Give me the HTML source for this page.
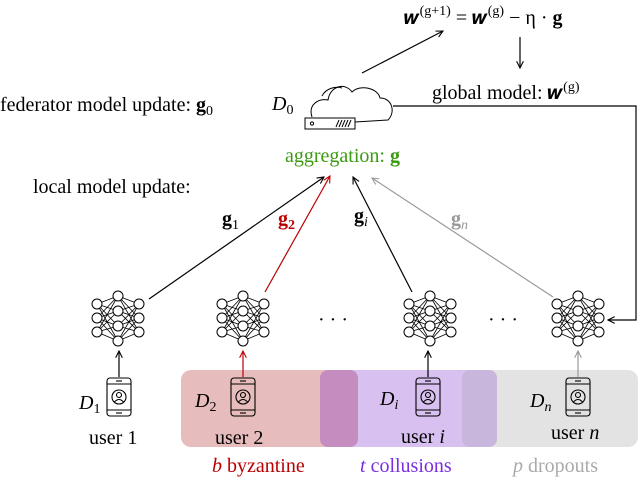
<!DOCTYPE html><html><head><style>body{margin:0;background:#fff}svg{display:block}text{font-family:"Liberation Serif",serif}</style></head><body>
<svg width="640" height="478" viewBox="0 0 640 478" xmlns="http://www.w3.org/2000/svg">
<defs>
<marker id="a" viewBox="0 0 10 10" refX="9" refY="5" markerWidth="7" markerHeight="7" orient="auto"><path d="M1,1 L9,5 L1,9" fill="none" stroke="context-stroke" stroke-width="1.3"/></marker>
<g id="net" fill="#fff" stroke="#000" stroke-width="1">
<g stroke-width="0.8">
<path d="M-21,-14 L0,-22 M-21,-14 L0,-7 M-21,-14 L0,8 M-21,-14 L0,23 M-21,0 L0,-22 M-21,0 L0,-7 M-21,0 L0,8 M-21,0 L0,23 M-21,14 L0,-22 M-21,14 L0,-7 M-21,14 L0,8 M-21,14 L0,23 M21,-14 L0,-22 M21,-14 L0,-7 M21,-14 L0,8 M21,-14 L0,23 M21,0 L0,-22 M21,0 L0,-7 M21,0 L0,8 M21,0 L0,23 M21,14 L0,-22 M21,14 L0,-7 M21,14 L0,8 M21,14 L0,23"/></g>
<circle cx="-21" cy="-14" r="5"/><circle cx="-21" cy="0" r="5"/><circle cx="-21" cy="14" r="5"/>
<circle cx="0" cy="-22" r="5"/><circle cx="0" cy="-7" r="5"/><circle cx="0" cy="8" r="5"/><circle cx="0" cy="23" r="5"/>
<circle cx="21" cy="-14" r="5"/><circle cx="21" cy="0" r="5"/><circle cx="21" cy="14" r="5"/>
</g>
<g id="ph" fill="none" stroke="#000" stroke-width="1.1">
<rect x="-12" y="-19" width="24" height="38" rx="3"/><line x1="-12" y1="-13" x2="12" y2="-13"/><line x1="-12" y1="13" x2="12" y2="13"/>
<line x1="-3" y1="-16" x2="3" y2="-16"/><line x1="-3" y1="16" x2="3" y2="16"/>
<circle cx="0" cy="0" r="7"/><circle cx="0" cy="-2" r="2.5"/><path d="M-4.5,5 Q0,0 4.5,5"/>
</g>
</defs>
<rect x="181" y="370" width="177" height="77" rx="10" fill="#e6bcbc"/>
<rect x="320" y="370" width="177" height="77" rx="10" fill="#d8c0f0"/>
<rect x="462" y="370" width="176" height="77" rx="10" fill="#e3e3e3"/>
<rect x="320" y="370" width="38" height="77" rx="8" fill="#c58cc0"/>
<rect x="462" y="370" width="35" height="77" rx="8" fill="#c9b6dc"/>
<use href="#net" x="118" y="318"/><use href="#net" x="243" y="318"/><use href="#net" x="430" y="318"/><use href="#net" x="578" y="318"/>
<use href="#ph" x="119" y="397"/><use href="#ph" x="243" y="397"/><use href="#ph" x="428" y="397"/><use href="#ph" x="578" y="397"/>
<g stroke-width="1.2" fill="none">
<line x1="119" y1="377" x2="119" y2="351" stroke="#000" marker-end="url(#a)"/>
<line x1="243" y1="377" x2="243" y2="351" stroke="#b00" marker-end="url(#a)"/>
<line x1="428" y1="377" x2="428" y2="351" stroke="#000" marker-end="url(#a)"/>
<line x1="578" y1="377" x2="578" y2="351" stroke="#999" marker-end="url(#a)"/>
<line x1="149" y1="299" x2="324" y2="177" stroke="#000" marker-end="url(#a)"/>
<line x1="265" y1="292" x2="330" y2="176" stroke="#b00" marker-end="url(#a)"/>
<line x1="412" y1="292" x2="353" y2="177" stroke="#000" marker-end="url(#a)"/>
<line x1="553" y1="297" x2="372" y2="178" stroke="#999" marker-end="url(#a)"/>
<line x1="362" y1="73" x2="443" y2="31" stroke="#000" marker-end="url(#a)"/>
<line x1="520" y1="37" x2="520" y2="68" stroke="#000" marker-end="url(#a)"/>
<polyline points="393,106 636,106 636,320 608,320" stroke="#000" marker-end="url(#a)"/>
</g>
<g fill="none" stroke="#000" stroke-width="1">
<path d="M312,117 C308,105 318,98 328,100 C330,86 345,82 352,92 C360,84 378,88 380,98 C392,98 396,112 388,120 L355,122"/>
<path d="M322,96 C326,88 336,86 342,88"/>
<rect x="305" y="118" width="50" height="11"/><circle cx="312" cy="123.5" r="1.6"/>
<path d="M336,127 L339,120 M339,127 L342,120 M342,127 L345,120 M345,127 L348,120 M348,127 L351,120"/>
</g>
<g font-size="20" fill="#000">
<text x="404" y="24">𝒘<tspan font-size="14" dy="-9">(g+1)</tspan><tspan dy="9"> = 𝒘</tspan><tspan font-size="14" dy="-9">(g)</tspan><tspan dy="9"> − η · </tspan><tspan font-weight="bold">g</tspan></text>
<text x="432" y="99">global model: 𝒘<tspan font-size="14" dy="-8">(g)</tspan></text>
<text x="0" y="111">federator model update: <tspan font-weight="bold">g</tspan><tspan font-size="14" dy="4">0</tspan></text>
<text x="272" y="110" font-style="italic">D<tspan font-size="14" dy="4" font-style="normal">0</tspan></text>
<text x="285" y="162" fill="#3a9a10">aggregation: <tspan font-weight="bold">g</tspan></text>
<text x="33" y="193">local model update:</text>
<text x="222" y="225" font-weight="bold">g<tspan font-size="14" dy="4" font-weight="normal">1</tspan></text>
<text x="278" y="225" font-weight="bold" fill="#b00">g<tspan font-size="14" dy="4">2</tspan></text>
<text x="354" y="222" font-weight="bold">g<tspan font-size="14" dy="4" font-weight="normal" font-style="italic">i</tspan></text>
<text x="451" y="225" font-weight="bold" fill="#999">g<tspan font-size="14" dy="4" font-weight="normal" font-style="italic">n</tspan></text>
<text x="318" y="326">· · ·</text><text x="488" y="326">· · ·</text>
<text x="79" y="409" font-style="italic">D<tspan font-size="14" dy="4" font-style="normal">1</tspan></text>
<text x="195" y="407" font-style="italic">D<tspan font-size="14" dy="4" font-style="normal">2</tspan></text>
<text x="380" y="405" font-style="italic">D<tspan font-size="14" dy="4">i</tspan></text>
<text x="530" y="407" font-style="italic">D<tspan font-size="14" dy="4">n</tspan></text>
<text x="89" y="444">user 1</text><text x="215" y="444">user 2</text>
<text x="401" y="443">user <tspan font-style="italic">i</tspan></text>
<text x="551" y="439">user <tspan font-style="italic">n</tspan></text>
<text x="212" y="472" fill="#b00"><tspan font-style="italic">b</tspan> byzantine</text>
<text x="360" y="472" fill="#7a2ee0"><tspan font-style="italic">t</tspan> collusions</text>
<text x="513" y="472" fill="#aaa"><tspan font-style="italic">p</tspan> dropouts</text>
</g>
</svg></body></html>
